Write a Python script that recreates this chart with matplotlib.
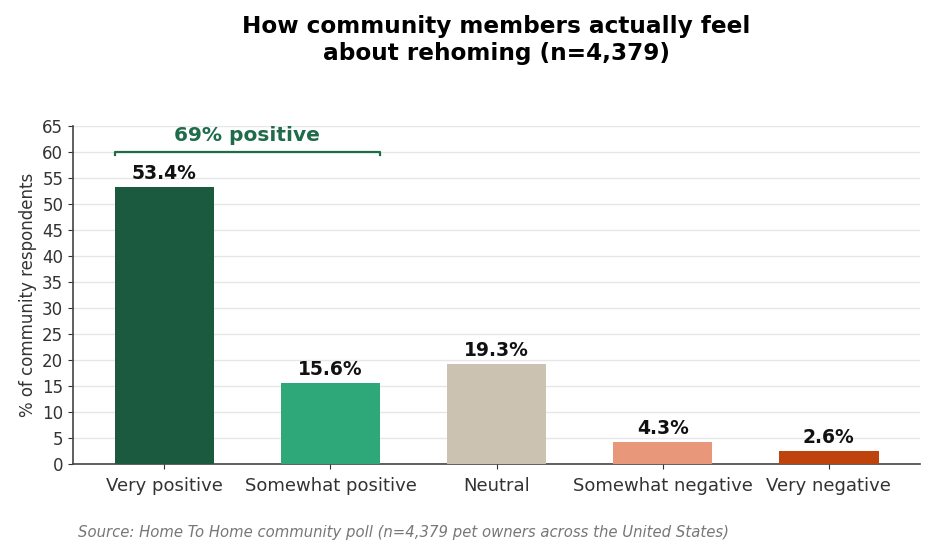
import numpy as np
import matplotlib
matplotlib.use("Agg")
from matplotlib import pyplot as plt

categories = ["Very positive", "Somewhat positive", "Neutral", "Somewhat negative", "Very negative"]
shares = [53.4, 15.6, 19.3, 4.3, 2.6]
colors = ["#1b5a3f", "#2ea878", "#cbc2b1", "#e8977a", "#bf430d"]
positive_total = 69
bracket_level = 60
yticks = list(range(0, 70, 5))

fig = plt.figure(figsize=(9.36, 5.56), dpi=100)
ax = fig.add_axes([0.078, 0.165, 0.905, 0.608])

x = np.arange(len(categories))
ax.bar(x, shares, width=0.6, color=colors, zorder=3)
for xi, v in zip(x, shares):
    ax.text(xi, v + 0.7, f"{v}%", ha="center", va="bottom", fontsize=13.5,
            fontweight="bold", color="#111111")

# bracket over the two positive bars
gc = "#1f6b4a"
x0, x1 = -0.3, 1.3
ax.plot([x0, x0, x1, x1], [bracket_level - 0.6, bracket_level, bracket_level, bracket_level - 0.6],
        color=gc, lw=1.6, zorder=4, clip_on=False)
ax.text((x0 + x1) / 2, bracket_level + 1.4, f"{positive_total}% positive", ha="center",
        va="bottom", fontsize=14.5, fontweight="bold", color=gc)

ax.set_xlim(-0.55, 4.55)
ax.set_ylim(0, 65)
ax.set_yticks(yticks)
ax.set_xticks(x)
ax.set_xticklabels(categories, fontsize=13)
ax.tick_params(axis="y", labelsize=12, colors="#333333")
ax.tick_params(axis="x", colors="#333333", pad=6)
ax.grid(axis="y", color="#e6e6e6", lw=1, zorder=0)
for s in ["top", "right"]:
    ax.spines[s].set_visible(False)
for s in ["left", "bottom"]:
    ax.spines[s].set_color("#444444")
    ax.spines[s].set_linewidth(1.2)
ax.set_ylabel("% of community respondents", fontsize=12, color="#333333", labelpad=4)

ax.set_title("How community members actually feel\nabout rehoming (n=4,379)", fontsize=16.7,
             fontweight="bold", pad=48)

fig.text(0.083, 0.035, "Source: Home To Home community poll (n=4,379 pet owners across the United States)",
         fontsize=10.7, style="italic", color="#777777")

fig.savefig("out.png", dpi=100)
